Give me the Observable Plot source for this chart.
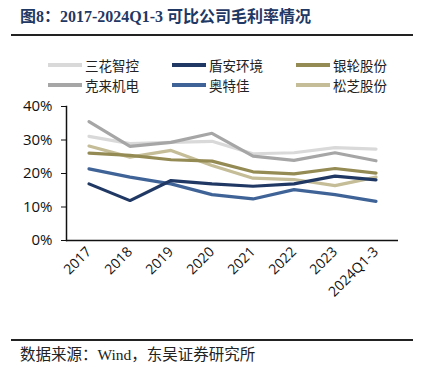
<!DOCTYPE html>
<html><head><meta charset="utf-8">
<script src="https://cdn.jsdelivr.net/npm/d3@7"></script>
<script src="https://cdn.jsdelivr.net/npm/@observablehq/plot@0.6"></script>
<style>
body{margin:0;width:428px;height:377px;position:relative;background:#fff;overflow:hidden;font-family:"Noto Sans CJK SC",sans-serif;}
#title{position:absolute;left:20px;top:6px;font:bold 16px/22px "Liberation Serif","Noto Sans CJK SC",serif;color:#1f3864;white-space:nowrap;}
#rule1{position:absolute;left:11px;top:34px;width:402px;height:2px;background:#222;}
#legend{position:absolute;left:0;top:56px;width:428px;}
.li{position:absolute;display:flex;align-items:center;height:18px;color:#222;white-space:nowrap;}
.li span.t{display:block;font-size:13.5px;line-height:18px;height:18px;}
.sw{display:block;width:34px;height:4px;margin-right:3px;}
#chart{position:absolute;left:0;top:95px;}
#rule2{position:absolute;left:11px;top:339px;width:402px;height:2px;background:#222;}
#cap{position:absolute;left:20px;top:345px;font-size:15.5px;line-height:19px;color:#222;white-space:nowrap;font-family:"Liberation Serif","Noto Sans CJK SC",serif;}
</style></head>
<body>
<div id="title">图8：2017-2024Q1-3 可比公司毛利率情况</div>
<div id="rule1"></div>
<div id="legend"></div>
<div id="chart"></div>
<div id="rule2"></div>
<div id="cap">数据来源：Wind，东吴证券研究所</div>
<script>
const years = ["2017","2018","2019","2020","2021","2022","2023","2024Q1-3"];
const sanhua  = [31.1, 28.9, 29.3, 29.6, 25.9, 26.2, 27.7, 27.3];
const dunan   = [16.9, 11.9, 17.9, 16.9, 16.2, 16.9, 19.2, 18.1];
const yinlun  = [26.1, 25.4, 24.1, 23.7, 20.5, 19.9, 21.5, 20.1];
const kelai   = [35.5, 28.1, 29.3, 32.0, 25.2, 23.9, 26.2, 23.8];
const aotejia = [21.4, 18.9, 16.9, 13.7, 12.4, 15.2, 13.7, 11.7];
const songzhi = [28.2, 24.9, 26.9, 22.4, 18.6, 18.2, 16.4, 18.9];
const seriesNames = ["三花智控","盾安环境","银轮股份","克来机电","奥特佳","松芝股份"];
const seriesValues = [sanhua, dunan, yinlun, kelai, aotejia, songzhi];
const colors = ["#d9d9d9","#1f3864","#948a54","#a6a6a6","#3f6397","#c4bd97"];
const yTicks = [0,10,20,30,40];

// legend
const legendPos = [[48,0],[172,0],[296,0],[48,20],[172,20],[296,20]];
const lg = document.getElementById("legend");
seriesNames.forEach((n,i)=>{
  const d = document.createElement("div");
  d.className="li"; d.style.left=legendPos[i][0]+"px"; d.style.top=legendPos[i][1]+"px";
  d.innerHTML = `<span class="sw" style="background:${colors[i]}"></span><span class="t">${n}</span>`;
  lg.appendChild(d);
});

const data = [];
seriesNames.forEach((n,i)=>years.forEach((y,j)=>data.push({series:n, year:y, value:seriesValues[i][j]})));
const order = ["三花智控","克来机电","松芝股份","银轮股份","奥特佳","盾安环境"];

const chart = Plot.plot({
  width: 428, height: 240,
  marginLeft: 66, marginRight: 30, marginTop: 11, marginBottom: 95,
  x: {type:"band", domain: years, padding: 0, label: null},
  y: {domain:[0,40], label: null},
  color: {domain: seriesNames, range: colors},
  style: {fontFamily: "'Open Sans','Noto Sans',sans-serif", color:"#111"},
  marks: [
    Plot.axisY({ticks: yTicks, tickFormat: d=>d+"%", tickSize:5, tickPadding:9, fontSize:15, stroke:"#111", label: null}),
    Plot.axisX({tickSize:0, tickRotate:-45, fontSize:14, tickPadding:9, label: null}),
    Plot.ruleY([0], {stroke:"#111", strokeWidth:1.5}),
    ...order.map(n => Plot.line(data.filter(d=>d.series===n), {x:"year", y:"value", stroke:"series", strokeWidth:3.2, strokeLinejoin:"miter", curve:"linear"})),
    Plot.frame({anchor:"left", stroke:"#111", strokeWidth:1.5})
  ]
});
document.getElementById("chart").appendChild(chart);
</script>
</body></html>
